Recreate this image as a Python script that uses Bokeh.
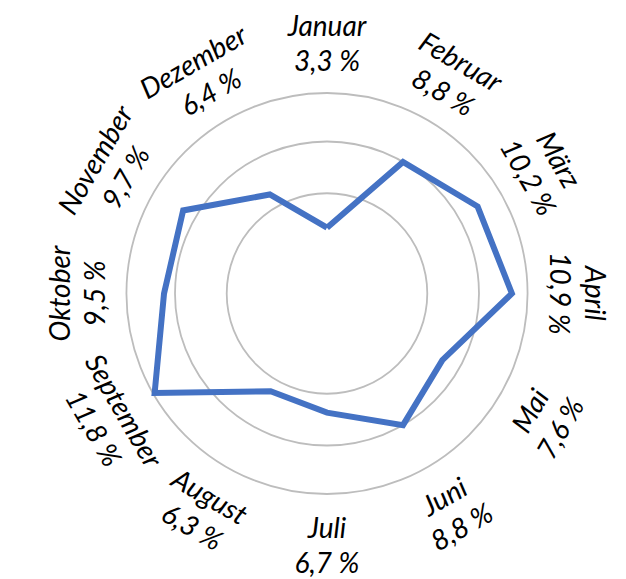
import numpy as np
from bokeh.plotting import figure
from bokeh.models import Range1d, ColumnDataSource
from bokeh.core.properties import value
from bokeh.embed import file_html
from bokeh.resources import INLINE

# ---- data ----
months = ["Januar", "Februar", "März", "April", "Mai", "Juni",
          "Juli", "August", "September", "Oktober", "November", "Dezember"]
shares = [3.3, 8.8, 10.2, 10.9, 7.6, 8.8, 6.7, 6.3, 11.8, 9.5, 9.7, 6.4]
grid_values = [5.5, 8.8, 11.9]
r_min = -0.9          # value at the centre of the radar
px_per_unit = 15.67   # radial scale
label_radius = 251
line_pitch = 35

W, H = 626, 579
cx_img, cy_img = 326.5, 293.0

p = figure(width=W, height=H, output_backend="svg", toolbar_location=None,
           x_range=Range1d(-cx_img, W - cx_img),
           y_range=Range1d(cy_img - H, cy_img),
           min_border=0, outline_line_color=None)
p.axis.visible = False
p.grid.visible = False
p.background_fill_color = "white"
p.border_fill_color = "white"

def rad(v):
    return (np.asarray(v, dtype=float) - r_min) * px_per_unit

# grid circles
p.circle(x=[0] * len(grid_values), y=[0] * len(grid_values), radius=rad(grid_values),
         fill_color=None, line_color="#BDBDBD", line_width=1.8)

n = len(months)
theta = np.arange(n) * 2 * np.pi / n          # clockwise from top
r = rad(shares)
xs = r * np.sin(theta)
ys = r * np.cos(theta)
xs_c = np.append(xs, xs[0])
ys_c = np.append(ys, ys[0])
p.line(xs_c, ys_c, line_color="#4472C4", line_width=6, line_join="miter")

# labels
mx, my, vx, vy, ang = [], [], [], [], []
for i in range(n):
    t = theta[i]
    deg = np.degrees(t)
    cxl = label_radius * np.sin(t)
    cyl = label_radius * np.cos(t)
    if 90 < deg < 270:
        a = np.pi - t
    else:
        a = -t
    a = np.arctan2(np.sin(a), np.cos(a))
    upx, upy = -np.sin(a), np.cos(a)
    mx.append(cxl + upx * line_pitch / 2)
    my.append(cyl + upy * line_pitch / 2)
    vx.append(cxl - upx * line_pitch / 2)
    vy.append(cyl - upy * line_pitch / 2)
    ang.append(a)

value_labels = [f"{v:.1f}".replace(".", ",") + " %" for v in shares]
src = ColumnDataSource(dict(mx=mx, my=my, vx=vx, vy=vy, ang=ang,
                            month=months, val=value_labels))
common = dict(text_font=value("Lato"), text_font_style="italic",
              text_font_size="28px", text_color="#000000",
              text_align="center", text_baseline="middle", angle="ang", source=src)
p.text(x="mx", y="my", text="month", **common)
p.text(x="vx", y="vy", text="val", **common)

open("out.html", "w").write(file_html(p, INLINE))
